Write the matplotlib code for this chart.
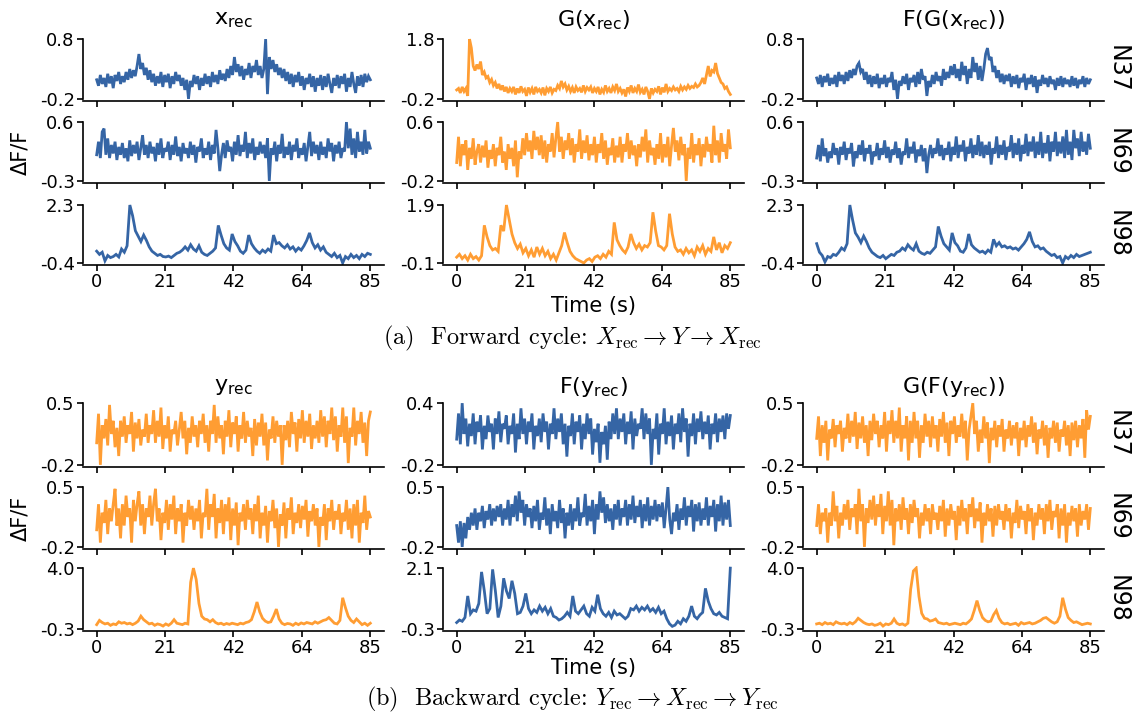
import numpy as np
import matplotlib
matplotlib.use("Agg")
import matplotlib.pyplot as plt

BLUE = "#3565a5"
ORANGE = "#ff9d33"
W, H = 1132, 715

# ---- forward cycle (a) ----
x_rec_n37 = [0.12, 0.02, 0.2, 0.05, 0.15, 0.0, 0.22, 0.06, 0.18, -0.02, 0.2, 0.1, 0.25, 0.05, 0.18,
             0.08, 0.25, 0.12, 0.3, 0.15, 0.28, 0.18, 0.35, 0.55, 0.3, 0.4, 0.2, 0.32, 0.12, 0.28,
             0.08, 0.22, 0.02, 0.18, 0.06, 0.25, 0.0, 0.2, 0.08, 0.22, -0.02, 0.18, 0.05, 0.25, 0.1,
             0.2, 0.02, 0.15, -0.05, 0.12, -0.2, 0.1, 0.0, 0.2, 0.05, 0.18, -0.05, 0.15, 0.02, 0.22,
             0.05, 0.18, 0.0, 0.25, 0.08, 0.2, 0.05, 0.28, 0.12, 0.22, 0.1, 0.3, 0.15, 0.35, 0.2,
             0.5, 0.25, 0.38, 0.18, 0.35, 0.12, 0.3, 0.2, 0.4, 0.15, 0.35, 0.25, 0.45, 0.2, 0.35,
             0.15, 0.3, 0.8, -0.12, 0.5, 0.3, 0.45, 0.25, 0.38, 0.2, 0.32, 0.15, 0.3, 0.1, 0.25,
             0.05, 0.22, 0.0, 0.2, 0.08, 0.25, 0.02, 0.18, -0.05, 0.15, 0.05, 0.22, 0.0, 0.18, -0.08,
             0.15, 0.02, 0.2, -0.05, 0.18, 0.0, 0.22, 0.05, -0.1, 0.15, 0.02, 0.2, -0.02, 0.18, 0.05,
             0.22, -0.08, 0.15, 0.0, 0.25, 0.05, -0.1, 0.18, 0.02, 0.2, 0.0, 0.22, 0.08, 0.18, 0.12]
x_rec_n69 = [0.1, 0.3, 0.05, 0.45, 0.5, 0.1, 0.35, 0.05, 0.25, 0.12, 0.3, 0.02, 0.22, 0.1, 0.28,
             0.05, 0.2, 0.0, 0.32, 0.08, 0.25, 0.12, 0.3, 0.02, 0.2, 0.4, 0.1, 0.25, 0.05, 0.3,
             0.12, 0.22, 0.0, 0.28, 0.1, 0.35, 0.05, 0.2, 0.15, 0.3, 0.02, 0.25, 0.1, 0.38, 0.08,
             0.22, 0.0, 0.28, 0.12, 0.2, 0.05, 0.3, 0.1, 0.25, -0.02, 0.22, 0.15, 0.35, 0.05, 0.2,
             0.1, 0.3, 0.02, 0.25, 0.12, 0.48, 0.2, -0.15, 0.1, 0.28, 0.05, 0.32, 0.15, 0.22, 0.0,
             0.3, 0.1, 0.4, 0.08, 0.25, 0.15, 0.45, 0.05, 0.28, 0.12, 0.35, 0.02, 0.22, 0.1, 0.3,
             0.12, 0.25, 0.05, 0.35, -0.3, 0.2, 0.1, 0.3, 0.0, 0.25, 0.12, 0.42, 0.05, 0.22, 0.1,
             0.3, 0.02, 0.25, 0.15, 0.35, 0.05, 0.2, 0.1, 0.28, 0.0, 0.22, 0.45, 0.08, 0.3, 0.12,
             0.25, 0.02, 0.3, 0.1, 0.22, 0.05, 0.35, 0.15, 0.28, 0.0, 0.25, 0.12, 0.3, 0.05, 0.2,
             0.15, 0.6, 0.2, 0.5, 0.1, 0.35, 0.05, 0.45, 0.15, 0.3, 0.1, 0.48, 0.12, 0.3, 0.2]
x_rec_n98 = [0.15, 0.0, 0.1, -0.3, -0.05, -0.15, -0.1, 0.0, -0.12, 0.25,
             0.1, 0.4, 2.3, 1.8, 1.1, 0.85, 0.6, 0.9, 0.65, 0.35,
             0.15, 0.05, -0.05, 0.0, -0.1, -0.12, -0.08, -0.15, -0.05, 0.05,
             0.1, 0.2, 0.35, 0.2, 0.45, 0.25, 0.15, 0.4, 0.1, 0.0,
             -0.05, 0.05, 0.15, 0.3, 1.35, 0.9, 0.5, 0.3, 0.2, 0.95,
             0.6, 0.4, 0.15, 0.05, 0.2, 0.9, 0.5, 0.3, 0.15, 0.05,
             0.2, 0.1, 0.25, 0.15, 0.9, 0.5, 0.55, 0.4, 0.3, 0.45,
             0.25, 0.35, 0.15, 0.3, 0.2, 0.4, 0.65, 1.0, 0.55, 0.3,
             0.45, 0.2, 0.35, 0.1, 0.0, -0.1, 0.05, -0.15, -0.05, -0.4,
             -0.1, -0.2, 0.0, -0.15, -0.05, -0.2, 0.0, -0.1, 0.05, 0.0]
g_x_n37 = [0.1, 0.15, 0.0, 0.2, 0.05, 0.15, -0.1, 1.8, 1.5, 0.9, 0.75, 0.95, 0.8, 1.05, 0.6,
           0.7, 0.5, 0.55, 0.35, 0.45, 0.25, 0.35, 0.15, 0.3, 0.1, 0.25, 0.05, 0.2, 0.0, 0.15,
           0.05, 0.2, -0.05, 0.15, 0.0, 0.22, 0.05, 0.12, -0.1, 0.18, 0.02, 0.15, -0.05, 0.2, 0.05,
           0.12, 0.0, 0.18, -0.08, 0.15, 0.05, 0.2, 0.0, 0.12, 0.08, 0.25, 0.15, 0.4, 0.2, 0.3,
           0.1, 0.22, 0.05, 0.18, 0.0, 0.2, 0.08, 0.15, 0.02, 0.25, 0.05, 0.18, 0.1, 0.2, 0.0,
           0.15, 0.05, 0.2, -0.05, 0.12, 0.02, 0.25, 0.05, 0.15, 0.0, 0.2, 0.08, 0.3, 0.05, 0.15,
           0.0, 0.12, -0.12, 0.18, 0.05, 0.25, 0.0, 0.15, 0.05, 0.28, 0.02, 0.12, -0.05, 0.2, 0.05,
           -0.2, 0.15, 0.0, 0.12, 0.05, 0.22, -0.05, 0.18, 0.02, 0.3, 0.05, 0.15, 0.08, 0.2, 0.1,
           0.15, 0.05, 0.22, 0.1, 0.2, 0.12, 0.25, 0.15, 0.22, 0.18, 0.3, 0.2, 0.25, 0.35, 0.5,
           0.3, 0.6, 0.9, 0.55, 0.75, 0.7, 1.0, 0.65, 0.5, 0.35, 0.3, 0.15, 0.2, 0.05, -0.05]
g_x_n69 = [0.05, 0.4, 0.0, 0.3, 0.15, 0.35, -0.05, 0.25, 0.1, 0.38, 0.02, 0.2, 0.3, 0.05, 0.28,
           0.12, 0.35, -0.02, 0.22, 0.1, 0.3, 0.0, 0.25, 0.15, 0.4, 0.05, 0.2, -0.05, 0.3, 0.1,
           0.25, 0.0, 0.35, -0.15, 0.2, 0.1, 0.38, 0.15, 0.45, 0.2, 0.35, 0.1, 0.48, 0.22, 0.4,
           0.15, 0.42, 0.1, 0.35, 0.05, 0.3, 0.2, 0.45, 0.12, 0.38, 0.6, 0.2, 0.4, 0.1, 0.35,
           0.22, 0.45, 0.15, 0.38, 0.05, 0.3, 0.2, 0.5, 0.1, 0.35, 0.18, 0.42, 0.08, 0.3, 0.15,
           0.4, 0.05, 0.3, 0.18, 0.45, 0.1, 0.35, 0.02, 0.25, 0.15, 0.38, 0.05, 0.28, 0.12, 0.4,
           0.05, 0.3, 0.2, 0.45, 0.1, 0.35, 0.15, 0.28, 0.0, 0.3, 0.12, 0.4, 0.2, 0.5, 0.05,
           0.35, 0.15, 0.25, 0.02, 0.3, 0.1, 0.45, 0.05, 0.3, 0.12, 0.4, 0.0, 0.28, 0.52, 0.2,
           0.35, 0.08, 0.4, 0.15, 0.3, -0.2, 0.25, 0.1, 0.45, 0.05, 0.3, 0.15, 0.38, 0.0, 0.3,
           0.12, 0.4, 0.2, 0.3, 0.05, 0.55, 0.15, 0.35, 0.05, 0.45, 0.2, 0.3, 0.1, 0.5, 0.25]
g_x_n98 = [0.1, 0.2, 0.05, 0.15, 0.0, 0.2, 0.05, 0.12, 0.0, 0.15,
           1.2, 0.8, 0.5, 0.35, 0.4, 0.3, 1.2, 1.0, 1.9, 1.4,
           0.9, 0.6, 0.4, 0.55, 0.25, 0.4, 0.15, 0.35, 0.1, 0.45,
           0.2, 0.4, 0.15, 0.3, 0.05, 0.2, 0.0, 0.25, 0.5, 0.95,
           0.6, 0.3, 0.15, 0.05, 0.0, -0.05, -0.1, 0.0, 0.05, -0.05,
           0.1, 0.15, 0.05, 0.2, 0.1, 0.3, 0.2, 1.3, 0.7, 0.5,
           0.35, 0.25, 0.45, 0.9, 0.6, 0.4, 0.55, 0.35, 0.5, 0.45,
           0.6, 1.65, 1.0, 0.5, 0.45, 0.35, 0.5, 1.6, 0.9, 0.45,
           0.3, 0.35, 0.2, 0.4, 0.25, 0.35, 0.15, 0.45, 0.3, 0.5,
           0.2, 0.4, 0.3, 0.8, 0.35, 0.6, 0.25, 0.5, 0.4, 0.6]
fg_x_n37 = [0.15, 0.05, 0.2, 0.0, 0.18, 0.08, 0.22, 0.02, 0.15, 0.05, 0.2, 0.0, 0.25, 0.1, 0.2,
            0.05, 0.25, 0.1, 0.28, 0.15, 0.3, 0.2, 0.35, 0.4, 0.25, 0.3, 0.12, 0.25, 0.05, 0.2,
            0.0, 0.18, 0.05, 0.22, -0.02, 0.15, 0.05, 0.2, 0.0, 0.15, 0.08, 0.25, -0.05, 0.12, -0.2,
            0.1, 0.02, 0.18, 0.05, 0.22, -0.05, 0.15, 0.08, 0.2, 0.0, 0.25, 0.05, 0.3, 0.12, 0.18,
            -0.15, 0.1, 0.0, 0.2, 0.05, 0.25, 0.1, 0.18, 0.02, 0.3, 0.12, 0.25, 0.15, 0.35, 0.2,
            0.38, 0.15, 0.3, 0.1, 0.42, 0.2, 0.35, 0.05, 0.3, 0.15, 0.5, 0.25, 0.4, 0.12, 0.35,
            0.1, 0.3, 0.55, 0.65, 0.45, 0.5, 0.25, 0.35, 0.15, 0.28, 0.08, 0.22, 0.05, 0.2, 0.1,
            0.22, 0.0, 0.18, 0.05, 0.2, -0.02, 0.15, 0.08, 0.22, -0.05, 0.15, 0.05, 0.2, 0.0, 0.18,
            -0.1, 0.12, 0.02, 0.2, 0.05, 0.15, 0.0, 0.18, 0.05, 0.12, -0.05, 0.15, 0.02, 0.18, 0.0,
            0.15, 0.05, 0.12, 0.0, 0.18, 0.02, 0.15, -0.02, 0.12, 0.05, 0.18, 0.0, 0.15, 0.05, 0.12]
fg_x_n69 = [0.05, 0.25, 0.0, 0.35, 0.08, 0.2, -0.02, 0.15, 0.05, 0.28, 0.1, 0.2, -0.05, 0.22, 0.1,
            0.3, 0.02, 0.2, 0.12, 0.28, -0.08, 0.15, 0.05, 0.25, 0.1, 0.32, 0.0, 0.2, 0.12, 0.25,
            -0.05, 0.15, 0.08, 0.28, 0.02, 0.2, 0.1, 0.32, 0.05, 0.22, -0.02, 0.18, 0.1, 0.3, 0.05,
            0.2, -0.05, 0.15, 0.1, 0.35, 0.05, 0.22, 0.12, 0.3, -0.02, 0.18, 0.08, 0.25, 0.0, 0.2,
            -0.18, 0.1, 0.25, 0.05, 0.2, 0.12, 0.35, 0.08, 0.25, 0.02, 0.2, 0.1, 0.3, 0.0, 0.22,
            0.1, 0.38, 0.05, 0.25, 0.15, 0.32, 0.0, 0.22, 0.12, 0.35, 0.05, 0.25, 0.1, 0.4, 0.08,
            0.3, 0.05, 0.25, 0.1, 0.3, -0.05, 0.2, 0.12, 0.38, 0.05, 0.25, 0.1, 0.32, 0.02, 0.22,
            0.15, 0.4, 0.05, 0.28, 0.1, 0.35, 0.0, 0.25, 0.12, 0.42, 0.08, 0.3, 0.15, 0.38, 0.05,
            0.3, 0.1, 0.45, 0.05, 0.28, 0.12, 0.4, 0.0, 0.3, 0.15, 0.45, 0.08, 0.3, 0.12, 0.38,
            0.05, 0.48, 0.1, 0.3, 0.02, 0.48, 0.2, 0.35, 0.08, 0.45, 0.15, 0.3, 0.1, 0.42, 0.2]
fg_x_n98 = [0.5, 0.1, -0.05, -0.35, -0.1, -0.15, 0.0, -0.05, 0.1, 0.3,
            0.2, 0.5, 2.3, 1.6, 1.0, 0.8, 0.55, 0.85, 0.6, 0.3,
            0.1, 0.0, -0.1, -0.15, -0.05, -0.2, -0.1, 0.0, -0.05, 0.1,
            0.15, 0.3, 0.2, 0.45, 0.3, 0.2, 0.5, 0.15, 0.05, 0.0,
            0.1, 0.05, 0.2, 0.35, 1.3, 0.85, 0.5, 0.35, 0.2, 1.0,
            0.55, 0.4, 0.15, 0.1, 0.3, 0.95, 0.45, 0.3, 0.2, 0.1,
            0.15, 0.05, 0.2, 0.1, 0.7, 0.4, 0.55, 0.35, 0.4, 0.3,
            0.35, 0.25, 0.3, 0.2, 0.35, 0.5, 0.7, 1.05, 0.6, 0.35,
            0.4, 0.25, 0.3, 0.15, 0.05, -0.05, 0.0, -0.15, -0.1, -0.4,
            -0.1, -0.2, -0.05, -0.15, 0.0, -0.1, -0.05, 0.0, 0.05, 0.1]

# ---- backward cycle (b) ----
y_rec_n37 = [0.05, 0.38, -0.2, 0.25, 0.1, 0.32, 0.02, 0.48, 0.15, 0.3, 0.0, 0.22, -0.1, 0.3, 0.12,
             0.35, 0.05, 0.25, 0.15, 0.4, -0.05, 0.28, 0.1, 0.32, 0.02, 0.2, 0.12, 0.38, 0.05, 0.25,
             0.15, 0.42, 0.05, 0.3, 0.12, 0.45, -0.02, 0.25, 0.1, 0.35, -0.05, 0.2, 0.15, 0.3, 0.02,
             0.2, 0.4, 0.1, 0.3, -0.08, 0.22, 0.05, 0.35, 0.12, 0.25, 0.0, 0.3, 0.15, 0.38, 0.05,
             0.25, -0.05, 0.3, 0.15, 0.48, 0.05, 0.35, 0.1, 0.25, -0.08, 0.3, 0.12, 0.42, 0.0, 0.28,
             0.15, 0.35, -0.05, 0.25, 0.1, 0.4, 0.05, 0.3, 0.12, 0.22, -0.1, 0.32, 0.02, 0.28, 0.12,
             0.38, 0.02, 0.28, -0.15, 0.2, 0.1, 0.35, 0.05, 0.3, 0.12, 0.25, -0.2, 0.25, 0.08, 0.3,
             0.0, 0.4, 0.15, 0.28, -0.05, 0.32, 0.1, 0.42, 0.05, 0.3, 0.12, 0.38, -0.02, 0.25, 0.1,
             0.3, 0.05, 0.42, 0.12, 0.35, 0.0, 0.3, 0.15, 0.45, 0.08, 0.35, -0.05, 0.25, 0.12, 0.45,
             0.05, 0.35, -0.18, 0.22, 0.12, 0.45, 0.02, 0.3, 0.15, 0.4, 0.05, 0.28, -0.1, 0.3, 0.4]
y_rec_n69 = [0.0, 0.3, -0.15, 0.2, 0.08, 0.35, -0.05, 0.25, 0.1, 0.3, 0.48, 0.05, 0.25, -0.1, 0.3,
             0.05, 0.4, 0.15, 0.25, -0.15, 0.35, 0.1, 0.3, 0.45, 0.05, 0.3, -0.05, 0.25, 0.15, 0.4,
             0.05, 0.3, 0.48, 0.1, 0.25, -0.12, 0.2, 0.08, 0.35, 0.0, 0.3, 0.12, 0.4, -0.05, 0.25,
             0.1, 0.3, -0.15, 0.2, 0.05, 0.35, 0.12, 0.28, 0.0, 0.25, 0.1, 0.35, -0.1, 0.2, 0.15,
             0.48, 0.0, 0.3, 0.15, 0.42, -0.1, 0.25, 0.08, 0.35, -0.05, 0.3, 0.1, 0.38, -0.12, 0.25,
             0.05, 0.32, -0.18, 0.2, 0.1, 0.3, 0.0, 0.35, 0.12, 0.25, -0.05, 0.3, 0.1, 0.4, -0.1,
             0.2, 0.05, 0.28, -0.15, 0.22, 0.1, 0.35, 0.02, 0.25, -0.2, 0.18, 0.05, 0.32, -0.1, 0.25,
             0.12, 0.38, -0.05, 0.2, 0.08, 0.3, 0.02, 0.28, 0.12, 0.35, -0.08, 0.22, 0.1, 0.3, 0.05,
             0.25, -0.2, 0.15, 0.05, 0.3, -0.12, 0.25, 0.1, 0.35, 0.0, 0.22, 0.12, 0.3, -0.05, 0.2,
             0.1, 0.35, 0.0, 0.25, -0.1, 0.3, 0.05, 0.35, -0.15, 0.2, 0.08, 0.4, 0.0, 0.22, 0.15]
y_rec_n98 = [0.0, 0.3, 0.15, 0.05, 0.1, -0.05, 0.05, 0.0, 0.2, 0.1,
             0.15, 0.05, 0.1, 0.0, 0.1, 0.25, 0.6, 0.35, 0.2, 0.05,
             0.1, -0.05, 0.05, 0.0, -0.1, 0.05, -0.05, 0.1, 0.35, 0.1,
             0.05, 0.0, 0.1, 0.05, 3.0, 4.0, 3.2, 1.5, 0.6, 0.4,
             0.35, 0.2, 0.35, 0.15, 0.05, 0.1, 0.0, 0.08, 0.02, 0.1,
             0.05, 0.0, 0.1, 0.05, 0.15, 0.2, 0.35, 0.9, 1.6, 0.9,
             0.45, 0.25, 0.15, 0.2, 0.6, 1.1, 0.4, 0.1, 0.0, 0.08,
             0.05, -0.05, 0.1, 0.0, 0.12, 0.05, 0.15, 0.1, 0.05, 0.2,
             0.1, 0.2, 0.3, 0.35, 0.5, 0.3, 0.1, 0.05, 0.3, 1.9,
             1.2, 0.6, 0.3, 0.15, 0.4, 0.2, 0.0, 0.1, -0.05, 0.1]
f_y_n37 = [0.05, 0.3, 0.0, 0.4, 0.1, 0.25, -0.02, 0.2, 0.08, 0.3, 0.0, 0.22, 0.12, 0.28, -0.05,
           0.18, 0.05, 0.28, 0.12, 0.2, -0.05, 0.25, 0.1, 0.32, 0.02, 0.2, 0.15, 0.28, 0.0, 0.18,
           0.1, 0.3, -0.08, 0.2, 0.05, 0.35, 0.1, 0.25, 0.0, 0.22, 0.12, 0.3, -0.05, 0.18, 0.08,
           0.25, 0.02, 0.3, 0.12, 0.22, -0.05, 0.2, 0.1, 0.35, 0.05, 0.25, 0.12, 0.3, 0.0, 0.2,
           -0.12, 0.18, 0.08, 0.3, 0.0, 0.22, 0.12, 0.28, -0.05, 0.2, 0.05, 0.3, 0.1, 0.25, -0.1,
           0.15, 0.02, 0.2, -0.18, 0.12, 0.0, 0.18, -0.15, 0.22, 0.05, 0.3, 0.1, 0.35, 0.05, 0.25,
           0.12, 0.3, 0.0, 0.22, 0.1, 0.32, -0.05, 0.25, 0.08, 0.2, 0.15, 0.35, 0.05, 0.3, 0.1,
           0.25, -0.2, 0.15, 0.05, 0.3, -0.1, 0.2, 0.1, 0.35, 0.0, 0.22, 0.08, 0.28, -0.05, 0.2,
           0.1, 0.3, 0.02, 0.35, 0.12, 0.25, -0.12, 0.2, 0.08, 0.3, 0.0, 0.25, 0.12, 0.32, 0.05,
           0.22, 0.1, 0.28, -0.05, 0.2, 0.1, 0.3, 0.02, 0.25, 0.12, 0.28, 0.05, 0.3, 0.15, 0.28]
f_y_n69 = [0.05, -0.15, 0.1, -0.2, 0.08, -0.1, 0.15, 0.0, 0.2, 0.05, 0.25, 0.0, 0.2, 0.1, 0.28,
           0.02, 0.22, 0.12, 0.3, 0.05, 0.25, 0.1, 0.28, 0.15, 0.3, 0.05, 0.25, 0.12, 0.35, 0.05,
           0.3, 0.15, 0.4, 0.1, 0.45, 0.2, 0.35, 0.05, 0.3, 0.15, 0.25, 0.02, 0.28, 0.1, 0.35,
           0.0, 0.2, 0.12, 0.38, 0.05, 0.25, -0.05, 0.3, 0.1, 0.22, 0.02, 0.35, 0.08, 0.25, -0.1,
           0.2, 0.05, 0.3, 0.0, 0.25, 0.1, 0.38, 0.05, 0.2, 0.15, 0.42, 0.05, 0.28, 0.1, 0.35,
           -0.05, 0.3, 0.12, 0.45, 0.2, 0.38, 0.08, 0.3, 0.1, 0.25, 0.0, 0.3, 0.12, 0.35, 0.05,
           0.25, 0.15, 0.35, 0.05, 0.3, 0.12, 0.4, 0.08, 0.28, 0.15, 0.35, 0.02, 0.3, 0.1, 0.38,
           0.05, 0.28, 0.12, 0.35, 0.1, 0.3, 0.15, 0.32, 0.02, 0.25, 0.5, 0.12, -0.05, 0.2, 0.1,
           0.3, 0.0, 0.25, 0.12, 0.38, 0.05, 0.28, 0.15, 0.35, -0.02, 0.3, 0.1, 0.32, 0.05, 0.25,
           0.12, 0.38, 0.05, 0.28, 0.15, 0.35, -0.02, 0.3, 0.1, 0.4, 0.05, 0.32, 0.12, 0.35, 0.05]
f_y_n98 = [-0.05, 0.05, 0.0, 0.15, 1.0, 0.3, 0.45, 0.4, 0.7, 1.95,
           1.2, 0.3, 0.5, 2.05, 1.2, 0.15, 0.6, 1.7, 1.2, 0.9,
           1.6, 1.1, 0.3, 0.35, 0.6, 1.1, 0.5, 0.3, 0.45, 0.35,
           0.6, 0.4, 0.55, 0.3, 0.5, 0.2, 0.15, 0.05, 0.1, 0.2,
           0.35, 0.2, 1.0, 0.4, 0.3, 0.45, 0.6, 0.3, 0.2, 0.55,
           0.4, 1.05, 0.5, 0.3, 0.2, 0.35, 0.15, 0.4, 0.25, 0.3,
           0.2, 0.1, 0.2, 0.5, 0.45, 0.6, 0.4, 0.55, 0.45, 0.6,
           0.4, 0.5, 0.35, 0.55, 0.3, 0.4, 0.1, -0.1, -0.2, -0.15,
           0.0, -0.1, 0.1, 0.0, 0.2, 0.6, 0.2, 0.1, 0.25, 0.35,
           1.3, 0.8, 0.5, 0.3, 0.25, 0.35, 0.2, 0.15, 0.1, 2.1]
gf_y_n37 = [0.1, 0.35, -0.1, 0.25, 0.05, 0.3, -0.15, 0.2, 0.1, 0.32, 0.0, 0.25, 0.15, 0.3, -0.05,
            0.22, 0.1, 0.38, 0.05, 0.3, 0.12, 0.4, -0.02, 0.28, 0.1, 0.35, 0.05, 0.25, -0.1, 0.3,
            0.08, 0.38, 0.15, 0.3, 0.0, 0.25, 0.1, 0.4, -0.05, 0.3, 0.15, 0.42, 0.05, 0.3, 0.1,
            0.45, -0.05, 0.25, 0.1, 0.35, -0.15, 0.3, 0.05, 0.4, 0.1, 0.3, -0.12, 0.25, 0.05, 0.38,
            0.12, 0.3, 0.0, 0.35, 0.1, 0.25, -0.05, 0.32, 0.12, 0.4, 0.05, 0.28, -0.1, 0.3, 0.15,
            0.35, 0.05, 0.25, 0.12, 0.38, 0.1, 0.3, -0.15, 0.2, 0.35, 0.5, 0.15, 0.3, -0.05, 0.2,
            0.05, 0.35, 0.1, 0.28, -0.18, 0.22, 0.08, 0.3, 0.0, 0.25, 0.12, 0.32, -0.05, 0.2, 0.1,
            0.3, 0.02, 0.25, 0.1, 0.28, -0.1, 0.22, 0.08, 0.3, 0.0, 0.25, 0.12, 0.35, 0.05, 0.28,
            -0.08, 0.2, 0.1, 0.3, 0.02, 0.25, -0.12, 0.22, 0.1, 0.3, 0.05, 0.28, -0.05, 0.2, 0.12,
            0.3, 0.02, 0.25, -0.1, 0.28, 0.08, 0.3, 0.0, 0.25, 0.1, 0.32, -0.12, 0.42, 0.2, 0.35]
gf_y_n69 = [0.05, 0.3, -0.05, 0.2, 0.1, 0.25, -0.15, 0.2, 0.05, 0.45, 0.1, 0.28, -0.1, 0.2, 0.05,
            0.3, 0.12, 0.35, 0.0, 0.25, 0.15, 0.3, -0.05, 0.48, 0.1, 0.3, -0.2, 0.25, 0.08, 0.35,
            0.12, 0.4, 0.05, 0.3, 0.15, 0.42, -0.05, 0.28, 0.1, 0.45, 0.05, 0.35, -0.18, 0.25, 0.1,
            0.3, 0.0, 0.38, 0.12, 0.25, -0.05, 0.3, 0.08, 0.35, 0.15, 0.25, -0.1, 0.2, 0.05, 0.3,
            0.1, 0.25, -0.05, 0.3, 0.12, 0.2, 0.0, 0.28, 0.1, 0.35, -0.08, 0.25, 0.05, 0.3, 0.12,
            0.22, -0.12, 0.28, 0.05, 0.35, 0.1, 0.25, -0.05, 0.3, 0.15, 0.38, 0.02, 0.25, 0.1, 0.32,
            -0.15, 0.2, 0.05, 0.3, 0.1, 0.25, -0.08, 0.28, 0.05, 0.3, 0.12, 0.22, 0.0, 0.3, 0.1,
            0.25, -0.1, 0.2, 0.08, 0.35, 0.02, 0.28, 0.12, 0.22, -0.05, 0.3, 0.1, 0.25, -0.12, 0.2,
            0.05, 0.3, 0.12, 0.25, -0.05, 0.3, 0.1, 0.35, 0.0, 0.22, 0.15, 0.3, -0.1, 0.25, 0.05,
            0.3, -0.15, 0.2, 0.05, 0.28, 0.1, 0.25, -0.08, 0.3, 0.05, 0.22, 0.12, 0.3, 0.0, 0.25]
gf_y_n98 = [0.05, 0.1, 0.0, 0.15, 0.05, 0.1, 0.0, 0.2, 0.1, 0.05,
            0.1, 0.0, 0.15, 0.05, 0.2, 0.45, 0.3, 0.15, 0.05, 0.0,
            0.05, -0.05, 0.0, 0.1, -0.1, 0.05, 0.0, 0.1, 0.4, 0.1,
            0.0, 0.05, -0.05, 0.1, 2.5, 3.8, 4.0, 2.0, 0.8, 0.45,
            0.4, 0.25, 0.3, 0.4, 0.15, 0.1, 0.05, 0.1, 0.0, 0.05,
            0.1, 0.05, 0.0, 0.1, 0.05, 0.2, 0.4, 1.0, 1.7, 1.0,
            0.5, 0.3, 0.2, 0.25, 0.7, 1.0, 0.45, 0.15, 0.05, 0.1,
            0.0, 0.05, 0.1, -0.05, 0.15, 0.05, 0.1, 0.15, 0.05, 0.1,
            0.2, 0.3, 0.45, 0.5, 0.35, 0.2, 0.1, 0.2, 0.6, 1.9,
            1.1, 0.5, 0.3, 0.15, 0.2, 0.1, 0.0, 0.05, 0.1, 0.05]

col_titles_a = [r"$\mathrm{x_{rec}}$", r"G($\mathrm{x_{rec}}$)", r"F(G($\mathrm{x_{rec}}$))"]
col_titles_b = [r"$\mathrm{y_{rec}}$", r"F($\mathrm{y_{rec}}$)", r"G(F($\mathrm{y_{rec}}$))"]
neurons = ["N37", "N69", "N98"]
xtick_labels = ["0", "21", "42", "64", "85"]

series_a = [[x_rec_n37, g_x_n37, fg_x_n37],
            [x_rec_n69, g_x_n69, fg_x_n69],
            [x_rec_n98, g_x_n98, fg_x_n98]]
yticks_a = [[(-0.2, 0.8), (-0.2, 1.8), (-0.2, 0.8)],
            [(-0.3, 0.6), (-0.2, 0.6), (-0.3, 0.6)],
            [(-0.4, 2.3), (-0.1, 1.9), (-0.4, 2.3)]]
series_b = [[y_rec_n37, f_y_n37, gf_y_n37],
            [y_rec_n69, f_y_n69, gf_y_n69],
            [y_rec_n98, f_y_n98, gf_y_n98]]
yticks_b = [[(-0.2, 0.5), (-0.2, 0.4), (-0.2, 0.5)],
            [(-0.2, 0.5), (-0.2, 0.5), (-0.2, 0.5)],
            [(-0.3, 4.0), (-0.3, 2.1), (-0.3, 4.0)]]
colors_a = [BLUE, ORANGE, BLUE]
colors_b = [ORANGE, BLUE, ORANGE]

plt.rcParams['axes.unicode_minus'] = False
plt.rcParams['font.family'] = 'DejaVu Sans'

fig = plt.figure(figsize=(W / 100, H / 100), dpi=100)


def fx(x):
    return x / W


def fy(y):
    return 1 - y / H


col_left = [83, 443, 803]
col_w = 301
col_center = [l + col_w / 2 for l in col_left]


def draw_block(series, yticks, colors, titles, tops, bottoms, title_y, label_y, time_y, cap_y, caption):
    for r in range(3):
        for c in range(3):
            top, bot = tops[r], bottoms[r]
            ax = fig.add_axes([fx(col_left[c]), fy(bot), col_w / W, (bot - top) / H])
            vals = series[r][c]
            t = np.linspace(0, 85, len(vals))
            ax.plot(t, vals, color=colors[c], lw=2.0, solid_joinstyle='miter')
            lo, hi = yticks[r][c]
            rng = hi - lo
            ax.set_ylim(lo - 0.035 * rng, hi + 0.035 * rng)
            ax.set_xlim(-4.25, 89.25)
            ax.set_yticks([lo, hi])
            ax.set_yticklabels([f"{lo:.1f}", f"{hi:.1f}"])
            ax.set_xticks(np.linspace(0, 85, 5))
            if r == 2:
                ax.set_xticklabels(xtick_labels)
            else:
                ax.set_xticklabels([])
            ax.spines['top'].set_visible(False)
            ax.spines['right'].set_visible(False)
            ax.spines['left'].set_bounds(lo, hi)
            for s in ['left', 'bottom']:
                ax.spines[s].set_linewidth(1.2)
            ax.tick_params(labelsize=13, width=1.2, length=4, pad=2)
            ax.patch.set_visible(False)
        fig.text(fx(1118), fy((tops[r] + bottoms[r]) / 2), neurons[r], rotation=270,
                 ha='center', va='center', fontsize=17)
    for c in range(3):
        fig.text(fx(col_center[c]), fy(title_y), titles[c], ha='center', va='center', fontsize=16)
    fig.text(fx(20), fy(label_y), "ΔF/F", rotation=90, ha='center', va='center', fontsize=15)
    fig.text(fx(col_center[1]), fy(time_y), "Time (s)", ha='center', va='center', fontsize=15)
    fig.text(fx(572), fy(cap_y), caption, ha='center', va='center', fontsize=17.5,
             family='cmr10', math_fontfamily='cm')


draw_block(series_a, yticks_a, colors_a, col_titles_a,
           [37, 120, 203], [101, 183, 265], 20, 152, 306, 338,
           r"(a)  Forward cycle: $X_{\rm rec} \rightarrow Y \rightarrow X_{\rm rec}$")
draw_block(series_b, yticks_b, colors_b, col_titles_b,
           [401, 485, 566], [467, 549, 631], 387, 518, 668, 699,
           r"(b)  Backward cycle: $Y_{\rm rec} \rightarrow X_{\rm rec} \rightarrow Y_{\rm rec}$")

fig.savefig("out.png", dpi=100)
